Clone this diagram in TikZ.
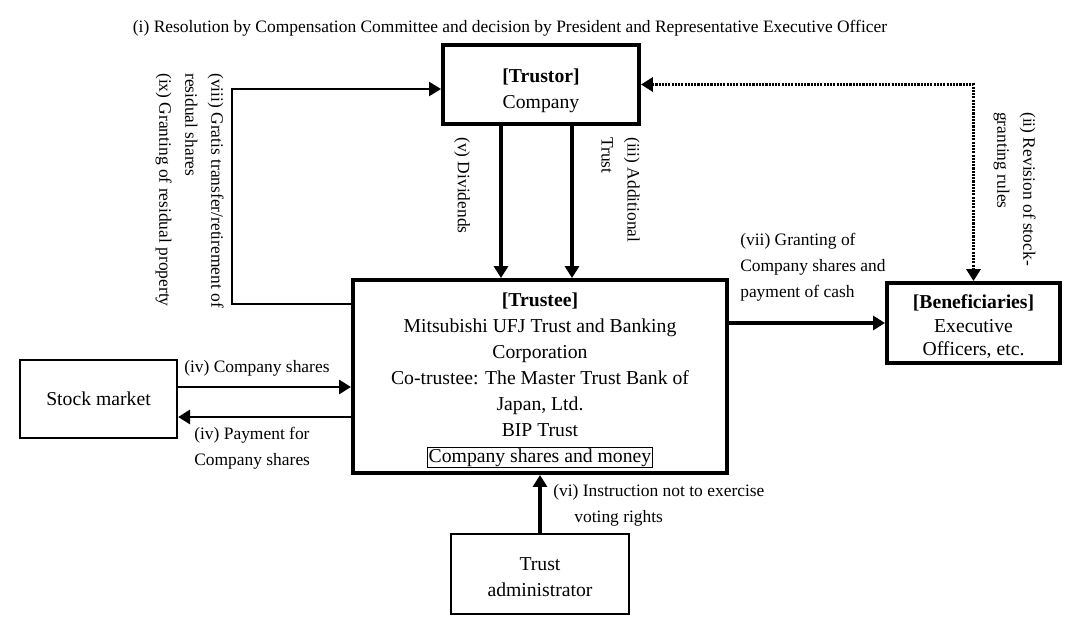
\documentclass[tikz,border=0pt]{standalone}
\usepackage{fontspec}
\setmainfont{Liberation Serif}
\usetikzlibrary{arrows.meta, positioning}

\begin{document}
\begin{tikzpicture}[x=0.025cm, y=-0.025cm,
  box/.style={draw, line width=#1, align=center, inner sep=0pt, font=\fontsize{14}{18.5}\selectfont},
  box/.default=1.6pt,
  lbl/.style={align=left, inner sep=0pt, font=\fontsize{12.4}{18.5}\selectfont},
  arr/.style={-{Triangle[length=8.5pt, width=10pt]}, line width=#1},
  arr/.default=2.3pt,
]
\useasboundingbox (0,0) rectangle (1067,617);

% Parties
\node[box=2.8pt, minimum width=4.9cm, minimum height=1.975cm] (trustor) at (541,84.5) {\rule{0pt}{19pt}\textbf{[Trustor]}\\Company};
\node[box=2.8pt, minimum width=9.35cm, minimum height=4.825cm] (trustee) at (540,376.5) {\rule{0pt}{15pt}\textbf{[Trustee]}\\Mitsubishi UFJ Trust and Banking\\Corporation\\Co-trustee: The Master Trust Bank of\\Japan, Ltd.\\BIP Trust\\{\setlength{\fboxsep}{0.5pt}\setlength{\fboxrule}{0.7pt}\fbox{Company shares and money}}};
\node[box=2.8pt, minimum width=4.325cm, minimum height=2cm, font=\fontsize{14}{16.7}\selectfont] (benef) at (973.5,323) {\rule{0pt}{15pt}\textbf{[Beneficiaries]}\\Executive\\Officers, etc.};
\node[box, minimum width=3.925cm, minimum height=1.95cm] (market) at (98.5,399) {Stock market};
\node[box, minimum width=4.45cm, minimum height=2cm] (admin) at (540,574) {\rule{0pt}{13pt}Trust\\administrator};

% Labels
\node[lbl, anchor=center] (lblI) at (510,28) {(i) Resolution by Compensation Committee and decision by President and Representative Executive Officer};
\node[lbl, rotate=-90, anchor=north west] (lblVIII) at (224,73) {(viii) Gratis transfer/retirement of\\residual shares\\(ix) Granting of residual property};
\node[lbl, rotate=-90, anchor=west] (lblV) at (462,137) {(v) Dividends};
\node[lbl, rotate=-90, anchor=north west] (lblIII) at (640,137) {(iii) Additional\\Trust};
\node[lbl, rotate=-90, anchor=north west] (lblII) at (1036,112) {(ii) Revision of stock-\\granting rules};
\node[lbl, anchor=north west] (lblVII) at (740,233) {(vii) Granting of\\Company shares and\\payment of cash};
\node[lbl, anchor=west] (lblIVa) at (184,368) {(iv) Company shares};
\node[lbl, anchor=north west] (lblIVb) at (194,427) {(iv) Payment for\\Company shares};
\node[lbl, anchor=north west] (lblVI) at (553,484) {(vi) Instruction not to exercise\\\hspace*{15pt}voting rights};

% Arrows
\draw[arr=1.5pt] (trustee.west |- 0,304) -- (232,304) -- (232,89) -- (trustor.west |- 0,89);
\draw[arr, {Triangle[length=8.5pt, width=10pt]}-{Triangle[length=8.5pt, width=10pt]}, dash pattern=on 1.5pt off 0.8pt] (trustor.east) -| (benef.north);
\draw[arr] (trustor.south -| 501,0) -- (trustee.north -| 501,0);
\draw[arr] (trustor.south -| 572,0) -- (trustee.north -| 572,0);
\draw[arr] (trustee.east |- benef.west) -- (benef.west);
\draw[arr=2pt] (market.east |- 0,387) -- (trustee.west |- 0,387);
\draw[arr=2pt] (trustee.west |- 0,417) -- (market.east |- 0,417);
\draw[arr] (admin.north) -- (trustee.south);

\end{tikzpicture}
\end{document}
